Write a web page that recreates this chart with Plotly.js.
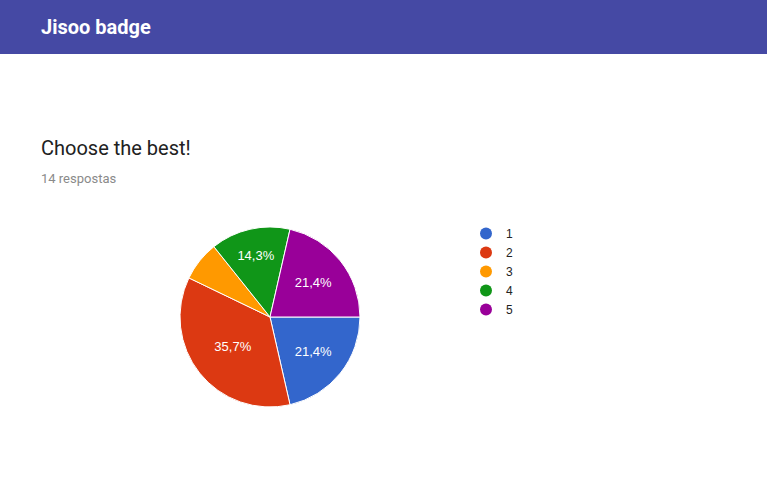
<!DOCTYPE html>
<html>
<head>
<meta charset="utf-8">
<script src="https://cdn.plot.ly/plotly-3.0.1.min.js"></script>
<style>
html,body{margin:0;padding:0;background:#fff;}
#chart{width:767px;height:499px;}
</style>
</head>
<body>
<div id="chart"></div>
<script>
const categories = ['1', '2', '3', '4', '5'];
const counts = [3, 5, 1, 2, 3];
const colors = ['#3366cc', '#dc3912', '#ff9900', '#109618', '#990099'];
const sliceLabels = ['%{percent:.1%}', '%{percent:.1%}', '', '%{percent:.1%}', '%{percent:.1%}'];
const pageTitle = 'Jisoo badge';
const questionTitle = 'Choose the best!';
const responsesText = '14 respostas';

const W = 767, H = 499;
const px = x => x / W;
const py = y => 1 - y / H;

const traces = [{
  type: 'pie',
  labels: categories,
  values: counts,
  sort: false,
  direction: 'clockwise',
  rotation: 90,
  marker: {colors: colors, line: {color: '#ffffff', width: 1}},
  texttemplate: sliceLabels,
  textposition: 'inside',
  insidetextorientation: 'horizontal',
  textfont: {family: 'Liberation Sans, Arial, sans-serif', size: 13, color: '#ffffff'},
  hoverinfo: 'label+value+percent',
  showlegend: false,
  domain: {x: [px(180), px(360)], y: [py(407), py(227)]}
}];
categories.forEach((c, i) => {
  traces.push({
    type: 'scatter', mode: 'markers', x: [null], y: [null], name: c,
    marker: {color: colors[i], size: 12, symbol: 'circle'},
    showlegend: true, hoverinfo: 'skip'
  });
});

const layout = {
  width: W, height: H,
  margin: {l: 0, r: 0, t: 0, b: 0},
  paper_bgcolor: '#ffffff', plot_bgcolor: '#ffffff',
  separators: ',.',
  xaxis: {visible: false, domain: [0.9, 1]},
  yaxis: {visible: false, domain: [0.9, 1]},
  showlegend: true,
  legend: {
    x: px(466), y: py(219), xanchor: 'left', yanchor: 'top',
    font: {family: 'Liberation Sans, Arial, sans-serif', size: 12, color: '#222222'},
    itemwidth: 30, tracegroupgap: 0, bgcolor: 'rgba(0,0,0,0)'
  },
  shapes: [{
    type: 'rect', xref: 'paper', yref: 'paper',
    x0: 0, x1: 1, y0: py(54), y1: 1,
    fillcolor: '#4549a4', line: {width: 0}, layer: 'below'
  }],
  annotations: [
    {text: '<b>' + pageTitle + '</b>', xref: 'paper', yref: 'paper', x: px(39), y: py(27),
     xanchor: 'left', yanchor: 'middle', showarrow: false,
     font: {family: 'Roboto, sans-serif', size: 20, color: '#ffffff'}},
    {text: questionTitle, xref: 'paper', yref: 'paper', x: px(39), y: py(148),
     xanchor: 'left', yanchor: 'middle', showarrow: false,
     font: {family: 'Roboto, sans-serif', size: 20, color: '#212121'}},
    {text: responsesText, xref: 'paper', yref: 'paper', x: px(39), y: py(178),
     xanchor: 'left', yanchor: 'middle', showarrow: false,
     font: {family: 'Roboto, sans-serif', size: 13, color: '#8a8a8a'}}
  ]
};

Plotly.newPlot('chart', traces, layout, {displayModeBar: false, staticPlot: true});
</script>
</body>
</html>
